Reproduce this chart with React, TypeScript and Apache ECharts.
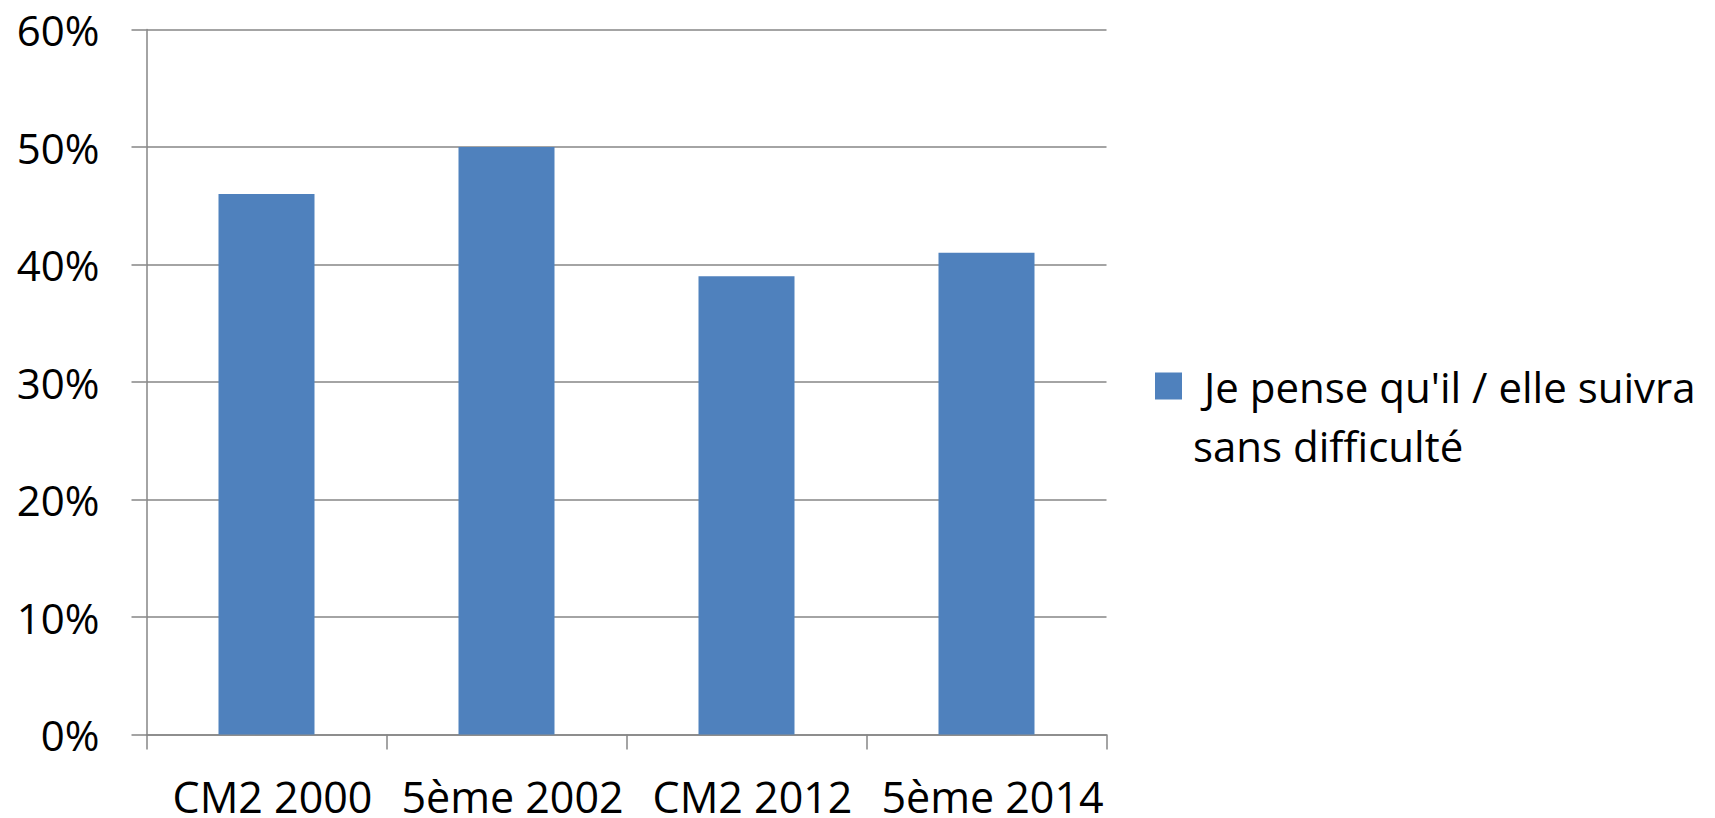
import React, { useEffect, useRef } from "react";
import * as echarts from "echarts";

const categories = ["CM2 2000", "5ème 2002", "CM2 2012", "5ème 2014"];
const seriesName = "Je pense qu'il / elle suivra sans difficulté";
const values = [46, 50, 39, 41];
const yTicks = { min: 0, max: 60, interval: 10 };

const FONT = "'Open Sans', 'Noto Sans', sans-serif";
const AXIS_GRAY = "#868686";

export default function App() {
  const ref = useRef<HTMLDivElement>(null);
  useEffect(() => {
    if (!ref.current) return;
    const chart = echarts.init(ref.current, null, { renderer: "svg" });
    chart.setOption({
      animation: false,
      backgroundColor: "#ffffff",
      textStyle: { fontFamily: FONT },
      grid: { left: 146.5, right: 608.5, top: 29.5, bottom: 82, containLabel: false },
      legend: {
        left: 1155,
        top: 297.5,
        padding: 0,
        orient: "vertical",
        icon: "rect",
        itemWidth: 27,
        itemHeight: 27,
        data: [seriesName],
        formatter: () => "{a|Je pense qu'il / elle suivra}\n{b|sans difficulté}",
        textStyle: {
          fontFamily: FONT,
          fontSize: 42,
          color: "#000000",
          lineHeight: 59,
          padding: [59, 0, 0, 6],
          rich: {
            a: { fontFamily: FONT, fontSize: 42, lineHeight: 59, color: "#000000", padding: [0, 0, 0, 11] },
            b: { fontFamily: FONT, fontSize: 42, lineHeight: 59, color: "#000000" },
          },
        },
      },
      xAxis: {
        type: "category",
        data: categories,
        boundaryGap: true,
        axisLine: { show: true, lineStyle: { color: AXIS_GRAY, width: 1.5 } },
        axisTick: { show: true, length: 15, alignWithLabel: false, lineStyle: { color: AXIS_GRAY, width: 1.5 } },
        axisLabel: {
          color: "#000000",
          fontSize: 43,
          lineHeight: 34,
          fontFamily: FONT,
          margin: 45,
          interval: 0,
          padding: [0, 0, 0, 12],
        },
        splitLine: { show: false },
      },
      yAxis: {
        type: "value",
        min: yTicks.min,
        max: yTicks.max,
        interval: yTicks.interval,
        axisLine: { show: true, lineStyle: { color: AXIS_GRAY, width: 1.5 } },
        axisTick: { show: true, length: 15, lineStyle: { color: AXIS_GRAY, width: 1.5 } },
        axisLabel: { color: "#000000", fontSize: 42, fontFamily: FONT, margin: 47, formatter: "{value}%" },
        splitLine: { show: true, lineStyle: { color: AXIS_GRAY, width: 1.5 } },
      },
      series: [
        {
          name: seriesName,
          type: "bar",
          data: values,
          barWidth: "40%",
          itemStyle: { color: "#4F81BD" },
        },
      ],
    });
    return () => chart.dispose();
  }, []);
  return (
    <div
      ref={ref}
      style={{ position: "absolute", left: 0, top: 0, width: 1715, height: 818 }}
    />
  );
}
